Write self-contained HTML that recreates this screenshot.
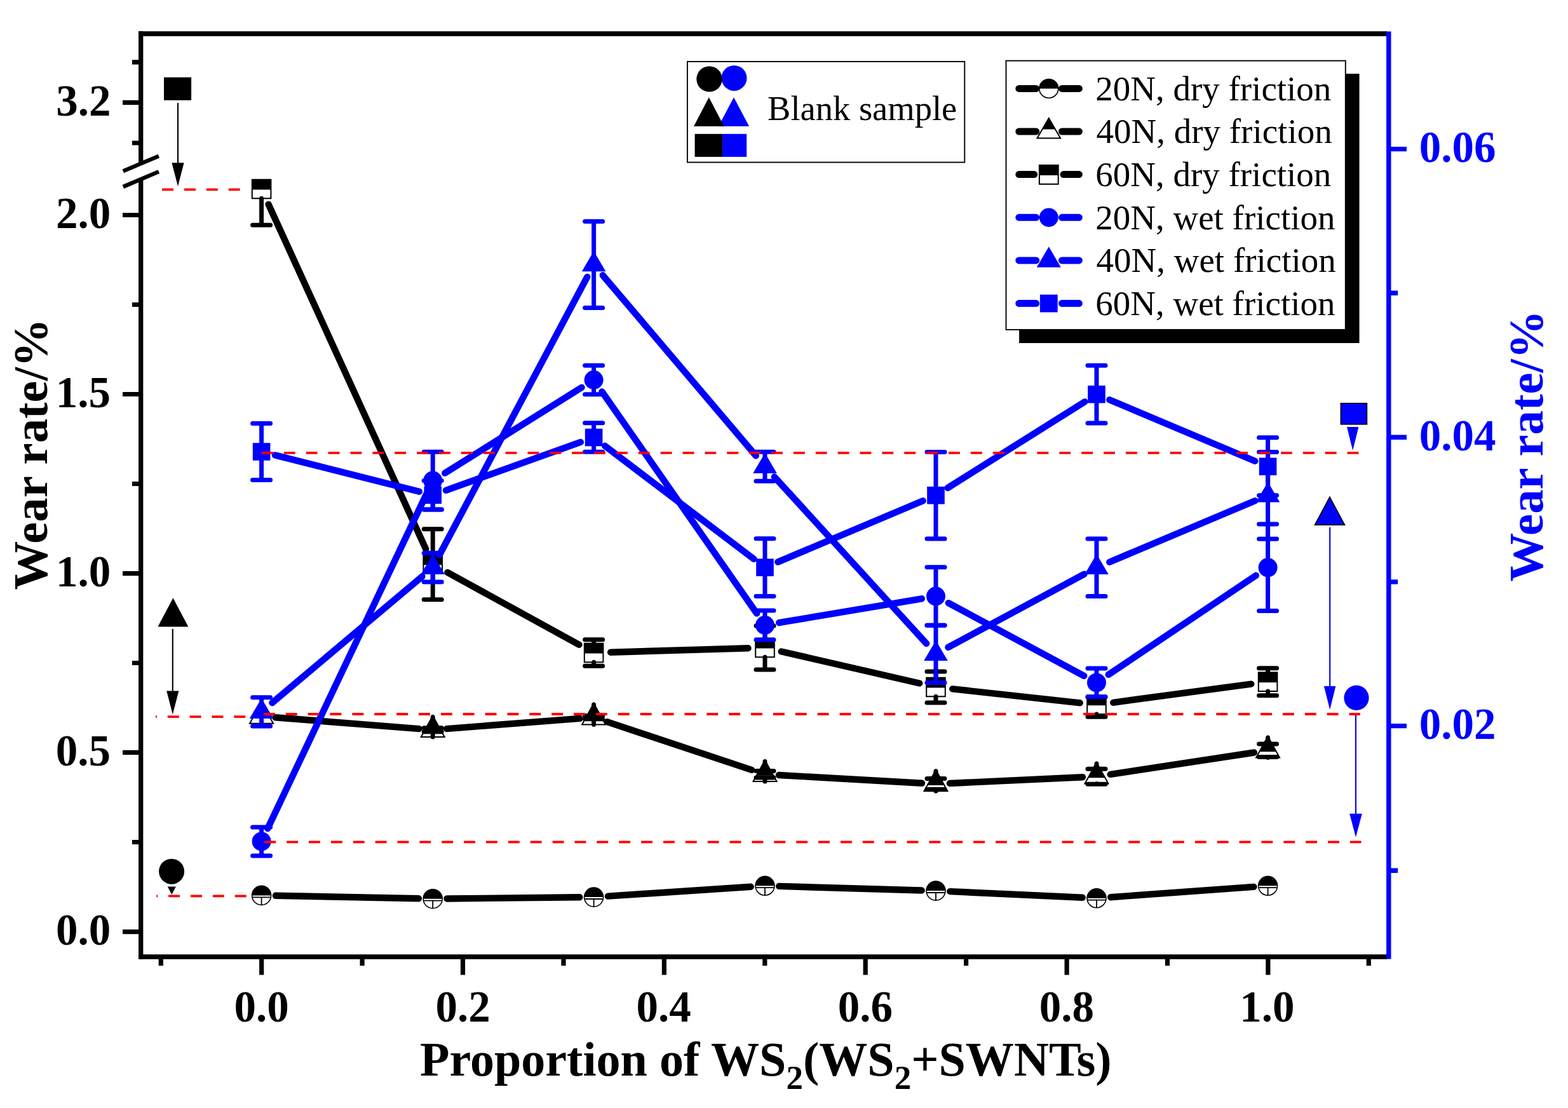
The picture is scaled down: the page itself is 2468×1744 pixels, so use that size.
<!DOCTYPE html>
<html><head><meta charset="utf-8"><title>Wear rate chart</title>
<style>html,body{margin:0;padding:0;background:#fff;}body{width:2468px;height:1744px;overflow:hidden;}svg{display:block;}</style>
</head><body>
<svg width="2468" height="1744" viewBox="0 0 2468 1744">
<rect width="2468" height="1744" fill="#fff"/>
<path d="M422.6 321.6L670.2 864.1M704.4 901.0L911.4 1014.7M961.1 1026.7L1177.5 1020.3M1229.8 1025.5L1447.2 1075.5M1499.3 1084.4L1699.7 1106.4M1752.3 1105.8L1969.3 1076.7" stroke="#000000" stroke-width="10.4" stroke-linecap="round" fill="none"/>
<path d="M433.5 1129.3L659.3 1147.1M703.1 1147.1L912.7 1130.9M955.5 1136.1L1183.1 1211.9M1226.0 1220.0L1451.0 1232.8M1495.0 1233.0L1704.0 1223.2M1747.7 1218.9L1973.9 1184.5" stroke="#000000" stroke-width="10.4" stroke-linecap="round" fill="none"/>
<path d="M433.9 1409.8L658.9 1414.3M703.5 1414.5L912.3 1412.3M956.9 1410.6L1181.7 1395.8M1226.3 1394.9L1450.7 1401.5M1495.3 1403.1L1703.7 1412.8M1748.2 1412.2L1973.4 1395.9" stroke="#000000" stroke-width="10.4" stroke-linecap="round" fill="none"/>
<rect x="396.8" y="282.7" width="29.6" height="29.6" fill="#fff" stroke="#000" stroke-width="2"/>
<rect x="396.8" y="282.7" width="29.6" height="15.8" fill="#000"/>
<polygon points="411.6,1105.3 430.1,1138.8 393.1,1138.8" fill="#fff" stroke="#000" stroke-width="2" stroke-linejoin="miter"/>
<polygon points="411.6,1105.3 425.0,1129.6 398.2,1129.6" fill="#000"/>
<circle cx="411.6" cy="1409.4" r="15.0" fill="#fff" stroke="#000" stroke-width="1.6"/>
<path d="M396.6 1409.4A15.0 15.0 0 0 1 426.6 1409.4Z" fill="#000"/>
<path d="M397.6 1412.3H425.6M411.6 1412.3V1424.4" stroke="#000" stroke-width="1.8" fill="none"/>
<rect x="666.4" y="873.4" width="29.6" height="29.6" fill="#fff" stroke="#000" stroke-width="2"/>
<rect x="666.4" y="873.4" width="29.6" height="15.8" fill="#000"/>
<polygon points="681.2,1126.5 699.7,1160.0 662.7,1160.0" fill="#fff" stroke="#000" stroke-width="2" stroke-linejoin="miter"/>
<polygon points="681.2,1126.5 694.6,1150.8 667.8,1150.8" fill="#000"/>
<circle cx="681.2" cy="1414.7" r="15.0" fill="#fff" stroke="#000" stroke-width="1.6"/>
<path d="M666.2 1414.7A15.0 15.0 0 0 1 696.2 1414.7Z" fill="#000"/>
<path d="M667.2 1417.6H695.2M681.2 1417.6V1429.7" stroke="#000" stroke-width="1.8" fill="none"/>
<rect x="919.8" y="1012.7" width="29.6" height="29.6" fill="#fff" stroke="#000" stroke-width="2"/>
<rect x="919.8" y="1012.7" width="29.6" height="15.8" fill="#000"/>
<polygon points="934.6,1106.9 953.1,1140.4 916.1,1140.4" fill="#fff" stroke="#000" stroke-width="2" stroke-linejoin="miter"/>
<polygon points="934.6,1106.9 948.0,1131.2 921.2,1131.2" fill="#000"/>
<circle cx="934.6" cy="1412.1" r="15.0" fill="#fff" stroke="#000" stroke-width="1.6"/>
<path d="M919.6 1412.1A15.0 15.0 0 0 1 949.6 1412.1Z" fill="#000"/>
<path d="M920.6 1415.0H948.6M934.6 1415.0V1427.1" stroke="#000" stroke-width="1.8" fill="none"/>
<rect x="1189.2" y="1004.7" width="29.6" height="29.6" fill="#fff" stroke="#000" stroke-width="2"/>
<rect x="1189.2" y="1004.7" width="29.6" height="15.8" fill="#000"/>
<polygon points="1204.0,1196.5 1222.5,1230.0 1185.5,1230.0" fill="#fff" stroke="#000" stroke-width="2" stroke-linejoin="miter"/>
<polygon points="1204.0,1196.5 1217.4,1220.8 1190.6,1220.8" fill="#000"/>
<circle cx="1204.0" cy="1394.3" r="15.0" fill="#fff" stroke="#000" stroke-width="1.6"/>
<path d="M1189.0 1394.3A15.0 15.0 0 0 1 1219.0 1394.3Z" fill="#000"/>
<path d="M1190.0 1397.2H1218.0M1204.0 1397.2V1409.3" stroke="#000" stroke-width="1.8" fill="none"/>
<rect x="1458.2" y="1066.7" width="29.6" height="29.6" fill="#fff" stroke="#000" stroke-width="2"/>
<rect x="1458.2" y="1066.7" width="29.6" height="15.8" fill="#000"/>
<polygon points="1473.0,1211.7 1491.5,1245.2 1454.5,1245.2" fill="#fff" stroke="#000" stroke-width="2" stroke-linejoin="miter"/>
<polygon points="1473.0,1211.7 1486.4,1236.0 1459.6,1236.0" fill="#000"/>
<circle cx="1473.0" cy="1402.1" r="15.0" fill="#fff" stroke="#000" stroke-width="1.6"/>
<path d="M1458.0 1402.1A15.0 15.0 0 0 1 1488.0 1402.1Z" fill="#000"/>
<path d="M1459.0 1405.0H1487.0M1473.0 1405.0V1417.1" stroke="#000" stroke-width="1.8" fill="none"/>
<rect x="1711.2" y="1094.5" width="29.6" height="29.6" fill="#fff" stroke="#000" stroke-width="2"/>
<rect x="1711.2" y="1094.5" width="29.6" height="15.8" fill="#000"/>
<polygon points="1726.0,1199.9 1744.5,1233.4 1707.5,1233.4" fill="#fff" stroke="#000" stroke-width="2" stroke-linejoin="miter"/>
<polygon points="1726.0,1199.9 1739.4,1224.2 1712.6,1224.2" fill="#000"/>
<circle cx="1726.0" cy="1413.8" r="15.0" fill="#fff" stroke="#000" stroke-width="1.6"/>
<path d="M1711.0 1413.8A15.0 15.0 0 0 1 1741.0 1413.8Z" fill="#000"/>
<path d="M1712.0 1416.7H1740.0M1726.0 1416.7V1428.8" stroke="#000" stroke-width="1.8" fill="none"/>
<rect x="1980.8" y="1058.4" width="29.6" height="29.6" fill="#fff" stroke="#000" stroke-width="2"/>
<rect x="1980.8" y="1058.4" width="29.6" height="15.8" fill="#000"/>
<polygon points="1995.6,1158.9 2014.1,1192.4 1977.1,1192.4" fill="#fff" stroke="#000" stroke-width="2" stroke-linejoin="miter"/>
<polygon points="1995.6,1158.9 2009.0,1183.2 1982.2,1183.2" fill="#000"/>
<circle cx="1995.6" cy="1394.3" r="15.0" fill="#fff" stroke="#000" stroke-width="1.6"/>
<path d="M1980.6 1394.3A15.0 15.0 0 0 1 2010.6 1394.3Z" fill="#000"/>
<path d="M1981.6 1397.2H2009.6M1995.6 1397.2V1409.3" stroke="#000" stroke-width="1.8" fill="none"/>
<path d="M411.6 312.3L411.6 354.2M397.6 354.2L425.6 354.2" stroke="#000000" stroke-width="7.0" stroke-linecap="round" fill="none"/>
<path d="" stroke="#000000" stroke-width="7.0" stroke-linecap="round" fill="none"/>
<path d="M681.2 873.4L681.2 832.7M667.2 832.7L695.2 832.7M681.2 903.0L681.2 943.7M667.2 943.7L695.2 943.7" stroke="#000000" stroke-width="7.0" stroke-linecap="round" fill="none"/>
<path d="M681.2 1128.5L681.2 1145.8M667.2 1145.8L695.2 1145.8M681.2 1160.0L681.2 1151.8M667.2 1151.8L695.2 1151.8" stroke="#000000" stroke-width="7.0" stroke-linecap="round" fill="none"/>
<path d="M934.6 1012.7L934.6 1006.7M920.6 1006.7L948.6 1006.7M934.6 1042.3L934.6 1048.3M920.6 1048.3L948.6 1048.3" stroke="#000000" stroke-width="7.0" stroke-linecap="round" fill="none"/>
<path d="M934.6 1108.9L934.6 1126.7M920.6 1126.7L948.6 1126.7M934.6 1140.4L934.6 1131.7M920.6 1131.7L948.6 1131.7" stroke="#000000" stroke-width="7.0" stroke-linecap="round" fill="none"/>
<path d="M1204.0 1004.7L1204.0 985.0M1190.0 985.0L1218.0 985.0M1204.0 1034.3L1204.0 1054.0M1190.0 1054.0L1218.0 1054.0" stroke="#000000" stroke-width="7.0" stroke-linecap="round" fill="none"/>
<path d="M1204.0 1198.5L1204.0 1213.6M1190.0 1213.6L1218.0 1213.6M1204.0 1230.0L1204.0 1224.0M1190.0 1224.0L1218.0 1224.0" stroke="#000000" stroke-width="7.0" stroke-linecap="round" fill="none"/>
<path d="M1473.0 1066.7L1473.0 1057.1M1459.0 1057.1L1487.0 1057.1M1473.0 1096.3L1473.0 1105.9M1459.0 1105.9L1487.0 1105.9" stroke="#000000" stroke-width="7.0" stroke-linecap="round" fill="none"/>
<path d="M1473.0 1213.7L1473.0 1225.5M1459.0 1225.5L1487.0 1225.5M1473.0 1245.2L1473.0 1242.5M1459.0 1242.5L1487.0 1242.5" stroke="#000000" stroke-width="7.0" stroke-linecap="round" fill="none"/>
<path d="M1726.0 1094.5L1726.0 1097.3M1712.0 1097.3L1740.0 1097.3M1726.0 1124.1L1726.0 1128.3M1712.0 1128.3L1740.0 1128.3" stroke="#000000" stroke-width="7.0" stroke-linecap="round" fill="none"/>
<path d="M1726.0 1201.9L1726.0 1210.2M1712.0 1210.2L1740.0 1210.2M1726.0 1233.4L1726.0 1234.2M1712.0 1234.2L1740.0 1234.2" stroke="#000000" stroke-width="7.0" stroke-linecap="round" fill="none"/>
<path d="M1995.6 1058.4L1995.6 1051.7M1981.6 1051.7L2009.6 1051.7M1995.6 1088.0L1995.6 1094.7M1981.6 1094.7L2009.6 1094.7" stroke="#000000" stroke-width="7.0" stroke-linecap="round" fill="none"/>
<path d="M1995.6 1160.9L1995.6 1170.9M1981.6 1170.9L2009.6 1170.9M1995.6 1192.4L1995.6 1191.5M1981.6 1191.5L2009.6 1191.5" stroke="#000000" stroke-width="7.0" stroke-linecap="round" fill="none"/>
<path d="M432.9 716.4L659.9 773.8M701.9 771.8L913.9 695.9M952.1 701.8L1186.5 879.9M1224.3 884.6L1452.7 788.3M1491.6 768.0L1707.4 632.4M1746.3 629.2L1975.3 725.8" stroke="#0000FF" stroke-width="10.4" stroke-linecap="round" fill="none"/>
<path d="M428.4 1106.2L664.4 907.4M691.5 873.8L924.3 435.9M948.8 433.3L1189.8 717.4M1218.8 750.5L1458.2 1013.0M1492.4 1018.9L1706.6 903.6M1746.3 884.7L1975.3 788.3" stroke="#0000FF" stroke-width="10.4" stroke-linecap="round" fill="none"/>
<path d="M421.3 1304.1L671.5 776.9M700.3 744.7L915.5 609.9M947.5 616.5L1191.1 965.5M1226.2 980.2L1450.8 942.3M1492.8 949.1L1706.2 1063.8M1744.7 1061.9L1976.9 905.8" stroke="#0000FF" stroke-width="10.4" stroke-linecap="round" fill="none"/>
<path d="M411.6 711.0L411.6 666.5M397.6 666.5L425.6 666.5M411.6 711.0L411.6 755.5M397.6 755.5L425.6 755.5" stroke="#0000FF" stroke-width="7.0" stroke-linecap="round" fill="none"/>
<path d="M411.6 1120.4L411.6 1097.7M397.6 1097.7L425.6 1097.7M411.6 1120.4L411.6 1143.1M397.6 1143.1L425.6 1143.1" stroke="#0000FF" stroke-width="7.0" stroke-linecap="round" fill="none"/>
<path d="M411.6 1324.4L411.6 1301.9M397.6 1301.9L425.6 1301.9M411.6 1324.4L411.6 1346.9M397.6 1346.9L425.6 1346.9" stroke="#0000FF" stroke-width="7.0" stroke-linecap="round" fill="none"/>
<path d="M681.2 779.2L681.2 756.5M667.2 756.5L695.2 756.5M681.2 779.2L681.2 801.9M667.2 801.9L695.2 801.9" stroke="#0000FF" stroke-width="7.0" stroke-linecap="round" fill="none"/>
<path d="M681.2 893.2L681.2 870.5M667.2 870.5L695.2 870.5M681.2 893.2L681.2 915.9M667.2 915.9L695.2 915.9" stroke="#0000FF" stroke-width="7.0" stroke-linecap="round" fill="none"/>
<path d="M681.2 756.6L681.2 711.3M667.2 711.3L695.2 711.3M681.2 756.6L681.2 801.9M667.2 801.9L695.2 801.9" stroke="#0000FF" stroke-width="7.0" stroke-linecap="round" fill="none"/>
<path d="M934.6 688.5L934.6 665.8M920.6 665.8L948.6 665.8M934.6 688.5L934.6 711.2M920.6 711.2L948.6 711.2" stroke="#0000FF" stroke-width="7.0" stroke-linecap="round" fill="none"/>
<path d="M934.6 416.5L934.6 348.5M920.6 348.5L948.6 348.5M934.6 416.5L934.6 484.5M920.6 484.5L948.6 484.5" stroke="#0000FF" stroke-width="7.0" stroke-linecap="round" fill="none"/>
<path d="M934.6 598.0L934.6 575.3M920.6 575.3L948.6 575.3M934.6 598.0L934.6 620.7M920.6 620.7L948.6 620.7" stroke="#0000FF" stroke-width="7.0" stroke-linecap="round" fill="none"/>
<path d="M1204.0 893.2L1204.0 847.8M1190.0 847.8L1218.0 847.8M1204.0 893.2L1204.0 938.6M1190.0 938.6L1218.0 938.6" stroke="#0000FF" stroke-width="7.0" stroke-linecap="round" fill="none"/>
<path d="M1204.0 734.2L1204.0 711.2M1190.0 711.2L1218.0 711.2M1204.0 734.2L1204.0 757.2M1190.0 757.2L1218.0 757.2" stroke="#0000FF" stroke-width="7.0" stroke-linecap="round" fill="none"/>
<path d="M1204.0 984.0L1204.0 961.0M1190.0 961.0L1218.0 961.0M1204.0 984.0L1204.0 1007.0M1190.0 1007.0L1218.0 1007.0" stroke="#0000FF" stroke-width="7.0" stroke-linecap="round" fill="none"/>
<path d="M1473.0 779.7L1473.0 711.5M1459.0 711.5L1487.0 711.5M1473.0 779.7L1473.0 847.9M1459.0 847.9L1487.0 847.9" stroke="#0000FF" stroke-width="7.0" stroke-linecap="round" fill="none"/>
<path d="M1473.0 1029.3L1473.0 984.2M1459.0 984.2L1487.0 984.2M1473.0 1029.3L1473.0 1074.4M1459.0 1074.4L1487.0 1074.4" stroke="#0000FF" stroke-width="7.0" stroke-linecap="round" fill="none"/>
<path d="M1473.0 938.5L1473.0 892.8M1459.0 892.8L1487.0 892.8M1473.0 938.5L1473.0 984.2M1459.0 984.2L1487.0 984.2" stroke="#0000FF" stroke-width="7.0" stroke-linecap="round" fill="none"/>
<path d="M1726.0 620.7L1726.0 575.3M1712.0 575.3L1740.0 575.3M1726.0 620.7L1726.0 666.1M1712.0 666.1L1740.0 666.1" stroke="#0000FF" stroke-width="7.0" stroke-linecap="round" fill="none"/>
<path d="M1726.0 893.2L1726.0 847.9M1712.0 847.9L1740.0 847.9M1726.0 893.2L1726.0 938.5M1712.0 938.5L1740.0 938.5" stroke="#0000FF" stroke-width="7.0" stroke-linecap="round" fill="none"/>
<path d="M1726.0 1074.4L1726.0 1052.1M1712.0 1052.1L1740.0 1052.1M1726.0 1074.4L1726.0 1096.7M1712.0 1096.7L1740.0 1096.7" stroke="#0000FF" stroke-width="7.0" stroke-linecap="round" fill="none"/>
<path d="M1995.6 734.3L1995.6 688.8M1981.6 688.8L2009.6 688.8M1995.6 734.3L1995.6 779.8M1981.6 779.8L2009.6 779.8" stroke="#0000FF" stroke-width="7.0" stroke-linecap="round" fill="none"/>
<path d="M1995.6 779.8L1995.6 711.4M1981.6 711.4L2009.6 711.4M1995.6 779.8L1995.6 848.2M1981.6 848.2L2009.6 848.2" stroke="#0000FF" stroke-width="7.0" stroke-linecap="round" fill="none"/>
<path d="M1995.6 893.3L1995.6 825.1M1981.6 825.1L2009.6 825.1M1995.6 893.3L1995.6 961.5M1981.6 961.5L2009.6 961.5" stroke="#0000FF" stroke-width="7.0" stroke-linecap="round" fill="none"/>
<rect x="397.8" y="697.2" width="27.6" height="27.6" fill="#0000FF"/>
<polygon points="411.6,1099.1 430.4,1131.1 392.8,1131.1" fill="#0000FF"/>
<circle cx="411.6" cy="1324.4" r="15.0" fill="#0000FF"/>
<rect x="667.4" y="765.4" width="27.6" height="27.6" fill="#0000FF"/>
<polygon points="681.2,871.9 700.0,903.9 662.4,903.9" fill="#0000FF"/>
<circle cx="681.2" cy="756.6" r="15.0" fill="#0000FF"/>
<rect x="920.8" y="674.7" width="27.6" height="27.6" fill="#0000FF"/>
<polygon points="934.6,395.2 953.4,427.2 915.8,427.2" fill="#0000FF"/>
<circle cx="934.6" cy="598.0" r="15.0" fill="#0000FF"/>
<rect x="1190.2" y="879.4" width="27.6" height="27.6" fill="#0000FF"/>
<polygon points="1204.0,712.9 1222.8,744.9 1185.2,744.9" fill="#0000FF"/>
<circle cx="1204.0" cy="984.0" r="15.0" fill="#0000FF"/>
<rect x="1459.2" y="765.9" width="27.6" height="27.6" fill="#0000FF"/>
<polygon points="1473.0,1008.0 1491.8,1040.0 1454.2,1040.0" fill="#0000FF"/>
<circle cx="1473.0" cy="938.5" r="15.0" fill="#0000FF"/>
<rect x="1712.2" y="606.9" width="27.6" height="27.6" fill="#0000FF"/>
<polygon points="1726.0,871.9 1744.8,903.9 1707.2,903.9" fill="#0000FF"/>
<circle cx="1726.0" cy="1074.4" r="15.0" fill="#0000FF"/>
<rect x="1981.8" y="720.5" width="27.6" height="27.6" fill="#0000FF"/>
<polygon points="1995.6,758.5 2014.4,790.5 1976.8,790.5" fill="#0000FF"/>
<circle cx="1995.6" cy="893.3" r="15.0" fill="#0000FF"/>
<path d="M255.1 298.4H380.0" stroke="#FF0000" stroke-width="3.8" stroke-dasharray="17.9 16.97" stroke-dashoffset="0.00" fill="none"/>
<path d="M412.0 712.9H2138.6" stroke="#FF0000" stroke-width="3.8" stroke-dasharray="17.9 16.97" stroke-dashoffset="0.00" fill="none"/>
<path d="M245.0 1128.2H390.0" stroke="#FF0000" stroke-width="3.8" stroke-dasharray="17.9 16.97" stroke-dashoffset="16.10" fill="none"/>
<path d="M414.9 1124.0H2140.8" stroke="#FF0000" stroke-width="3.8" stroke-dasharray="17.9 16.97" stroke-dashoffset="0.00" fill="none"/>
<path d="M416.3 1325.4H2142.5" stroke="#FF0000" stroke-width="3.8" stroke-dasharray="17.9 16.97" stroke-dashoffset="0.00" fill="none"/>
<path d="M246.4 1410.3H391.0" stroke="#FF0000" stroke-width="3.8" stroke-dasharray="17.9 16.97" stroke-dashoffset="16.10" fill="none"/>
<rect x="258" y="121.7" width="43.1" height="36.1" fill="#000"/>
<path d="M280.0 162.0V257.2" stroke="#000000" stroke-width="2.1" fill="none"/>
<polygon points="270.4,256.2 289.6,256.2 280.0,293.2" fill="#000000"/>
<polygon points="272.4,941.3 296.4,986.6 248.4,986.6" fill="#000000"/>
<path d="M271.8 990.0V1088.5" stroke="#000000" stroke-width="2.1" fill="none"/>
<polygon points="262.2,1087.5 281.4,1087.5 271.8,1124.5" fill="#000000"/>
<circle cx="270.1" cy="1371.7" r="20.0" fill="#000000"/>
<polygon points="263.7,1395.5 276.9,1395.5 270.3,1408.0" fill="#000000"/>
<rect x="2110.4" y="634.8" width="41" height="33" fill="#0000FF" stroke="#000" stroke-width="1.6"/>
<polygon points="2120.0,672.0 2138.4,672.0 2129.2,709.0" fill="#0000FF"/>
<polygon points="2093.0,782.3 2116.5,826.3 2069.5,826.3" fill="#0000FF" stroke="#000" stroke-width="1.6" stroke-linejoin="miter"/>
<path d="M2093.2 830.0V1080.9" stroke="#0000FF" stroke-width="2.1" fill="none"/>
<polygon points="2083.9,1079.9 2102.4,1079.9 2093.2,1116.9" fill="#0000FF"/>
<circle cx="2135.0" cy="1098.4" r="19.6" fill="#0000FF"/>
<path d="M2134.0 1126.0V1281.8" stroke="#0000FF" stroke-width="2.1" fill="none"/>
<polygon points="2124.2,1280.8 2143.8,1280.8 2134.0,1317.8" fill="#0000FF"/>
<path d="M221.7 49.3V258M221.7 281V1509.6" stroke="#000" stroke-width="7.3" fill="none"/>
<path d="M218 53.1H2183" stroke="#000" stroke-width="7.6" fill="none"/>
<path d="M218 1506H2183" stroke="#000" stroke-width="7.3" fill="none"/>
<path d="M2185.8 49.4V1509.6" stroke="#0000FF" stroke-width="7.4" fill="none"/>
<path d="M193 161.4H218.5M193 338.5H218.5M193 620.5H218.5M193 902.6H218.5M193 1184.4H218.5M193 1466.6H218.5M208 97.8H218.5M208 225.0H218.5M208 479.5H218.5M208 761.5H218.5M208 1043.5H218.5M208 1325.5H218.5" stroke="#000" stroke-width="7.2" fill="none"/>
<path d="M193.8 269.3L249.9 245.6M193.8 294L249.9 270.2" stroke="#000" stroke-width="6.3" fill="none"/>
<path d="M253.3 1509V1520M411.7 1509V1534.5M570.1 1509V1520M728.5 1509V1534.5M887.0 1509V1520M1045.4 1509V1534.5M1203.8 1509V1520M1362.2 1509V1534.5M1520.6 1509V1520M1679.1 1509V1534.5M1837.5 1509V1520M1995.9 1509V1534.5M2154.3 1509V1520" stroke="#000" stroke-width="7.2" fill="none"/>
<path d="M2189 234.6H2214M2189 688.3H2214M2189 1142.6H2214M2189 461.3H2200.2M2189 915.9H2200.2M2189 1370.3H2200.2" stroke="#0000FF" stroke-width="7.4" fill="none"/>
<text x="88.2" y="181.8" font-family="Liberation Serif, Times New Roman, serif" font-weight="bold" font-size="69" fill="#000">3.2</text>
<text x="87.9" y="358.9" font-family="Liberation Serif, Times New Roman, serif" font-weight="bold" font-size="69" fill="#000">2.0</text>
<text x="87.8" y="640.9" font-family="Liberation Serif, Times New Roman, serif" font-weight="bold" font-size="69" fill="#000">1.5</text>
<text x="87.9" y="923.0" font-family="Liberation Serif, Times New Roman, serif" font-weight="bold" font-size="69" fill="#000">1.0</text>
<text x="87.8" y="1204.8" font-family="Liberation Serif, Times New Roman, serif" font-weight="bold" font-size="69" fill="#000">0.5</text>
<text x="87.9" y="1487.0" font-family="Liberation Serif, Times New Roman, serif" font-weight="bold" font-size="69" fill="#000">0.0</text>
<text x="2233.7" y="255.2" font-family="Liberation Serif, Times New Roman, serif" font-weight="bold" font-size="69" fill="#0000FF">0.06</text>
<text x="2233.7" y="708.9" font-family="Liberation Serif, Times New Roman, serif" font-weight="bold" font-size="69" fill="#0000FF">0.04</text>
<text x="2233.7" y="1163.2" font-family="Liberation Serif, Times New Roman, serif" font-weight="bold" font-size="69" fill="#0000FF">0.02</text>
<text x="368.6" y="1607.5" font-family="Liberation Serif, Times New Roman, serif" font-weight="bold" font-size="69" fill="#000">0.0</text>
<text x="685.6" y="1607.5" font-family="Liberation Serif, Times New Roman, serif" font-weight="bold" font-size="69" fill="#000">0.2</text>
<text x="1001.6" y="1607.5" font-family="Liberation Serif, Times New Roman, serif" font-weight="bold" font-size="69" fill="#000">0.4</text>
<text x="1318.8" y="1607.5" font-family="Liberation Serif, Times New Roman, serif" font-weight="bold" font-size="69" fill="#000">0.6</text>
<text x="1635.8" y="1607.5" font-family="Liberation Serif, Times New Roman, serif" font-weight="bold" font-size="69" fill="#000">0.8</text>
<text x="1951.3" y="1607.5" font-family="Liberation Serif, Times New Roman, serif" font-weight="bold" font-size="69" fill="#000">1.0</text>
<text transform="translate(74.0 928.4) rotate(-90)" font-family="Liberation Serif, Times New Roman, serif" font-weight="bold" font-size="76.8" fill="#000">Wear rate/%</text>
<text transform="translate(2428.3 915.5) rotate(-90)" font-family="Liberation Serif, Times New Roman, serif" font-weight="bold" font-size="76.8" fill="#0000FF">Wear rate/%</text>
<text x="661.0" y="1692.5" font-family="Liberation Serif, Times New Roman, serif" font-weight="bold" font-size="76.1" fill="#000">Proportion of WS<tspan font-size="53" dy="21.6">2</tspan><tspan dy="-21.6">(WS</tspan><tspan font-size="53" dy="21.6">2</tspan><tspan dy="-21.6">+SWNTs)</tspan></text>
<rect x="1081.9" y="96.9" width="436.4" height="158.6" fill="#fff" stroke="#000" stroke-width="1.9"/>
<circle cx="1155.5" cy="122.9" r="20.0" fill="#0000FF"/>
<circle cx="1116.5" cy="124.4" r="20.2" fill="#000000"/>
<polygon points="1155.0,153.3 1179.1,198.8 1130.9,198.8" fill="#0000FF"/>
<polygon points="1115.8,153.3 1139.6,198.8 1092.0,198.8" fill="#000000"/>
<rect x="1137.1" y="210.8" width="38.1" height="36.1" fill="#0000FF"/>
<rect x="1093.6" y="210.8" width="43.5" height="36.1" fill="#000"/>
<text x="1208.1" y="189.2" font-family="Liberation Serif, Times New Roman, serif" font-size="54.5" fill="#000">Blank sample</text>
<rect x="1604.1" y="116.1" width="535.5" height="423.9" fill="#000"/>
<rect x="1583.5" y="95.6" width="534.3" height="423.3" fill="#fff" stroke="#000" stroke-width="1.9"/>
<path d="M1603.8 139.4H1630.7M1671.5 139.4H1698.4" stroke="#000000" stroke-width="11" stroke-linecap="round" fill="none"/>
<circle cx="1650.8" cy="139.4" r="14.9" fill="#fff" stroke="#000" stroke-width="1.6"/>
<path d="M1635.9 139.4A14.9 14.9 0 0 1 1665.7 139.4Z" fill="#000"/>
<text x="1724.2" y="157.6" font-family="Liberation Serif, Times New Roman, serif" font-size="55" fill="#000">20N, dry friction</text>
<path d="M1603.8 207.0H1630.7M1671.5 207.0H1698.4" stroke="#000000" stroke-width="11" stroke-linecap="round" fill="none"/>
<polygon points="1650.8,185.9 1669.1,217.5 1632.5,217.5" fill="#fff" stroke="#000" stroke-width="2" stroke-linejoin="miter"/>
<polygon points="1650.8,185.9 1661.0,203.6 1640.6,203.6" fill="#000"/>
<text x="1725.5" y="225.2" font-family="Liberation Serif, Times New Roman, serif" font-size="55" fill="#000">40N, dry friction</text>
<path d="M1603.8 274.6H1627.7M1674 274.6H1698.4" stroke="#000000" stroke-width="11" stroke-linecap="round" fill="none"/>
<rect x="1635.9" y="260.0" width="29.8" height="29.8" fill="#fff" stroke="#000" stroke-width="2"/>
<rect x="1635.9" y="260.0" width="29.8" height="15.9" fill="#000"/>
<text x="1724.2" y="292.8" font-family="Liberation Serif, Times New Roman, serif" font-size="55" fill="#000">60N, dry friction</text>
<path d="M1603.8 342.3H1630.7M1671.5 342.3H1698.4" stroke="#0000FF" stroke-width="11" stroke-linecap="round" fill="none"/>
<circle cx="1650.8" cy="342.3" r="14.9" fill="#0000FF"/>
<text x="1724.2" y="360.5" font-family="Liberation Serif, Times New Roman, serif" font-size="55" fill="#000">20N, wet friction</text>
<path d="M1603.8 409.9H1630.7M1671.5 409.9H1698.4" stroke="#0000FF" stroke-width="11" stroke-linecap="round" fill="none"/>
<polygon points="1650.8,388.3 1669.8,420.7 1631.8,420.7" fill="#0000FF"/>
<text x="1725.5" y="428.1" font-family="Liberation Serif, Times New Roman, serif" font-size="55" fill="#000">40N, wet friction</text>
<path d="M1603.8 477.6H1630.7M1671.5 477.6H1698.4" stroke="#0000FF" stroke-width="11" stroke-linecap="round" fill="none"/>
<rect x="1636.9" y="463.7" width="27.8" height="27.8" fill="#0000FF"/>
<text x="1724.2" y="495.8" font-family="Liberation Serif, Times New Roman, serif" font-size="55" fill="#000">60N, wet friction</text>
</svg>
</body></html>
